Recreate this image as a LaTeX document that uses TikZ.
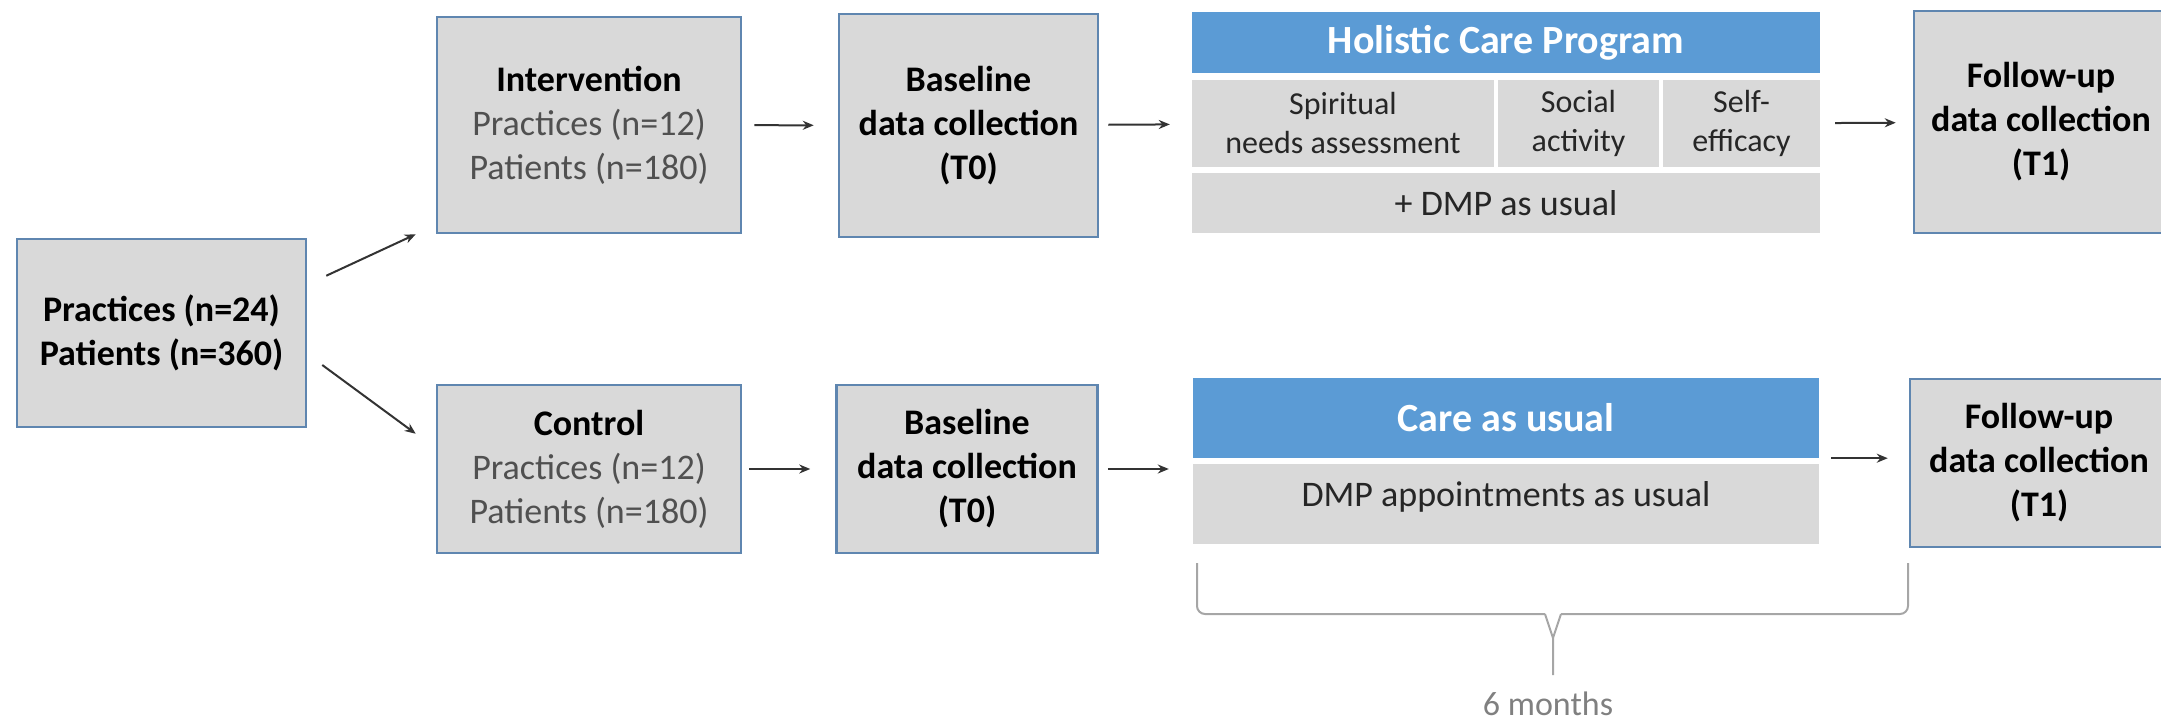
\documentclass[tikz,border=0pt]{standalone}
\usepackage{fontspec}
\setmainfont{Carlito}
\usetikzlibrary{arrows.meta}
\definecolor{boxline}{HTML}{5F86B0}
\definecolor{boxfill}{HTML}{D9D9D9}
\definecolor{headblue}{HTML}{5B9BD5}
\definecolor{subtext}{HTML}{505050}
\definecolor{bracegray}{HTML}{A6A6A6}
\tikzset{
    box/.style = {draw = boxline, line width = 2.5pt, fill = boxfill, inner sep = 0pt, align = center,
        font = \fontsize{36}{44}\selectfont},
    head/.style = {fill = headblue, inner sep = 0pt, text = white, font = \fontsize{40}{48}\selectfont\bfseries},
    cell/.style = {fill = boxfill, inner sep = 0pt, align = center, text = black!85,
        font = \fontsize{32}{39}\selectfont},
    arr/.style = {-{Stealth[length = 11pt, width = 9pt]}, line width = 2pt, black!80},
    brace/.style = {draw = bracegray, line width = 2pt},
}
\begin{document}
\begin{tikzpicture}[x = 1pt, y = -1pt]
        \useasboundingbox (0, 0) rectangle (2161, 725);
        \clip (0, 0) rectangle (2161, 725);

        \node [box, minimum width = 289pt, minimum height = 188pt, font = \fontsize{36}{44}\selectfont\bfseries]
            (all) at (161.5, 333) {Practices (n=24)\\Patients (n=360)};

        \node [box, minimum width = 304pt, minimum height = 216pt] (interv) at (589, 125)
            {\textbf{Intervention}\\\color{subtext}Practices (n=12)\\\color{subtext}Patients (n=180)};
        \node [box, minimum width = 304pt, minimum height = 168pt] (ctrl) at (589, 469)
            {\textbf{Control}\\\color{subtext}Practices (n=12)\\\color{subtext}Patients (n=180)};

        \node [box, minimum width = 259pt, minimum height = 223pt, font = \fontsize{36}{44}\selectfont\bfseries]
            (base1) at (968.5, 125.5) {Baseline\\data collection\\(T0)};
        \node [box, minimum width = 261pt, minimum height = 168pt, font = \fontsize{36}{44}\selectfont\bfseries]
            (base2) at (967, 469) {Baseline\\data collection\\(T0)};

        \node [head, minimum width = 628pt, minimum height = 61pt] (hcp) at (1506, 42.5) {Holistic Care Program};
        \node [cell, minimum width = 302pt, minimum height = 87pt] (spirit) at (1343, 123.5) {Spiritual\\needs assessment};
        \node [cell, minimum width = 161pt, minimum height = 87pt] (social) at (1578.5, 123.5) {Social\\activity};
        \node [cell, minimum width = 157pt, minimum height = 87pt] (selfeff) at (1741.5, 123.5) {Self-\\efficacy};
        \node [cell, minimum width = 628pt, minimum height = 60pt, font = \fontsize{36}{44}\selectfont]
            (dmpplus) at (1506, 203) {+ DMP as usual};

        \node [head, minimum width = 626pt, minimum height = 80pt] (cau) at (1506, 418) {Care as usual};
        \node [cell, minimum width = 626pt, minimum height = 80pt, text depth = 20pt, font = \fontsize{36}{44}\selectfont]
            (dmp) at (1506, 504) {DMP appointments as usual};

        \node [box, minimum width = 254pt, minimum height = 222pt, font = \fontsize{36}{44}\selectfont\bfseries]
            (follow1) at (2041, 122) {Follow-up\\data collection\\(T1)};
        \node [box, minimum width = 258pt, minimum height = 168pt, font = \fontsize{36}{44}\selectfont\bfseries]
            (follow2) at (2039, 463) {Follow-up\\data collection\\(T1)};

        \node [font = \fontsize{34}{40}\selectfont, text = black!50] (months) at (1548, 704) {6 months};

        \draw [arr] ([shift = {(19, 38)}]all.north east) -- ([xshift = -20pt]interv.south west);
        \draw [arr] ([shift = {(15, 32)}]all.east) -- ([shift = {(-20, 50)}]ctrl.north west);
        \draw [arr, shorten <= 12pt, shorten >= 24pt] (interv) -- (base1);
        \draw [arr, shorten <= 9pt, shorten >= 22pt] (base1) -- (spirit);
        \draw [arr, shorten <= 15pt, shorten >= 17pt] (selfeff) -- (follow1);
        \draw [arr, shorten <= 7pt, shorten >= 25pt] (ctrl) -- (base2);
        \draw [arr, shorten <= 9pt, shorten >= 24pt] (base2.east) -- (base2.east -| dmp.west);
        \draw [arr, shorten <= 12pt, shorten >= 21pt] (cau.south east) -- (cau.south east -| follow2.west);

        \draw [brace, rounded corners = 8pt] (1197, 563) -- (1197, 614) -- (1545, 614);
        \draw [brace, rounded corners = 8pt] (1908, 563) -- (1908, 614) -- (1561, 614);
        \draw [brace, line join = round] (1545, 614) -- (1553, 638) -- (1561, 614) (1553, 638) -- (1553, 675);
    \end{tikzpicture}
\end{document}
